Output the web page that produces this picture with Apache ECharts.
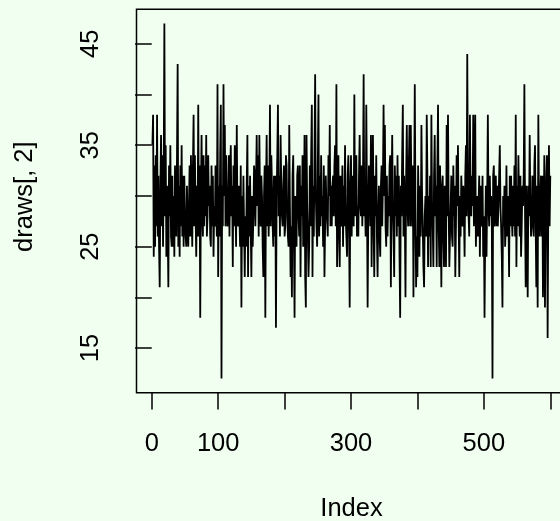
<!DOCTYPE html>
<html>
<head>
<meta charset="utf-8">
<script src="https://cdn.jsdelivr.net/npm/echarts@6/dist/echarts.min.js"></script>
<style>
  html, body { margin: 0; padding: 0; background: #F0FFF0; }
  #chart { width: 560px; height: 521px; }
</style>
</head>
<body>
<div id="chart"></div>
<script>
// Trace of the second column of the sampler output, one value per iteration
const draws2 = [
  35, 38, 24, 33, 25, 34, 27, 38, 26, 32,
  25, 21, 31, 36, 27, 34, 25, 32, 47, 28,
  35, 24, 31, 27, 21, 33, 28, 35, 26, 25,
  32, 25, 30, 24, 33, 28, 26, 34, 43, 25,
  31, 24, 33, 27, 35, 26, 32, 25, 32, 28,
  26, 25, 31, 27, 25, 29, 33, 26, 34, 29,
  25, 33, 38, 27, 34, 28, 24, 31, 26, 39,
  26, 33, 18, 30, 36, 28, 26, 34, 27, 33,
  28, 36, 26, 28, 34, 29, 31, 26, 25, 33,
  27, 32, 24, 29, 27, 33, 29, 26, 41, 22,
  31, 26, 34, 39, 12, 31, 27, 41, 30, 37,
  27, 34, 29, 27, 29, 34, 26, 32, 35, 28,
  31, 23, 33, 27, 35, 29, 25, 37, 28, 27,
  31, 28, 25, 33, 19, 30, 25, 32, 27, 22,
  28, 25, 31, 36, 22, 31, 26, 32, 27, 22,
  30, 25, 28, 33, 32, 27, 27, 36, 29, 34,
  26, 36, 30, 27, 32, 30, 25, 22, 30, 33,
  18, 31, 36, 27, 33, 26, 31, 39, 27, 34,
  31, 27, 25, 32, 26, 32, 17, 30, 34, 39,
  28, 32, 26, 36, 31, 28, 27, 31, 33, 26,
  27, 34, 33, 28, 26, 25, 37, 29, 22, 27,
  20, 32, 34, 26, 18, 30, 30, 25, 32, 33,
  28, 26, 33, 22, 31, 28, 34, 25, 28, 36,
  22, 19, 36, 29, 26, 22, 25, 33, 27, 34,
  39, 22, 31, 26, 34, 42, 30, 27, 25, 33,
  40, 26, 32, 27, 34, 28, 30, 25, 33, 22,
  27, 32, 29, 29, 26, 34, 30, 37, 27, 31,
  27, 31, 32, 28, 33, 35, 27, 41, 23, 31,
  34, 26, 23, 32, 28, 27, 33, 25, 31, 27,
  35, 28, 26, 24, 32, 34, 27, 19, 31, 34,
  26, 32, 30, 27, 40, 28, 30, 34, 26, 29,
  26, 32, 36, 29, 28, 33, 27, 31, 42, 28,
  30, 26, 39, 30, 19, 28, 33, 31, 27, 36,
  23, 31, 36, 27, 22, 32, 28, 34, 26, 22,
  28, 31, 26, 24, 31, 33, 27, 31, 39, 30,
  37, 27, 25, 32, 26, 30, 28, 33, 34, 21,
  30, 36, 29, 26, 22, 33, 28, 32, 26, 34,
  27, 32, 24, 18, 31, 28, 34, 39, 26, 32,
  28, 20, 32, 37, 29, 27, 33, 37, 27, 37,
  30, 27, 33, 20, 30, 41, 29, 21, 26, 22,
  33, 28, 24, 31, 26, 37, 30, 27, 23, 21,
  28, 30, 26, 38, 32, 23, 30, 26, 32, 23,
  38, 29, 27, 23, 32, 36, 28, 31, 23, 33,
  39, 27, 23, 33, 28, 21, 31, 32, 26, 23,
  31, 31, 23, 37, 28, 38, 29, 23, 26, 29,
  32, 26, 25, 33, 28, 31, 22, 27, 34, 29,
  35, 28, 22, 30, 26, 32, 32, 27, 31, 28,
  24, 32, 35, 28, 44, 31, 28, 26, 38, 30,
  28, 32, 29, 38, 27, 32, 38, 25, 28, 30,
  26, 29, 32, 24, 31, 27, 28, 32, 24, 28,
  18, 26, 31, 24, 30, 38, 29, 27, 32, 28,
  30, 27, 12, 32, 33, 27, 29, 32, 27, 31,
  27, 29, 32, 35, 29, 27, 24, 19, 30, 27,
  31, 25, 27, 33, 26, 30, 28, 22, 32, 27,
  32, 28, 26, 31, 27, 33, 26, 38, 23, 31,
  27, 34, 29, 26, 32, 24, 27, 31, 29, 32,
  41, 28, 21, 31, 27, 20, 31, 28, 36, 29,
  26, 27, 32, 29, 26, 33, 35, 27, 21, 31,
  19, 38, 29, 26, 30, 32, 26, 32, 20, 27,
  34, 19, 28, 32, 34, 16, 29, 35, 27, 32
];

// Axis ticks and the subset of them that carry labels
const xTicks = [0, 100, 200, 300, 400, 500, 600];
const xLabels = [0, 100, 300, 500];
const yTicks = [15, 20, 25, 30, 35, 40, 45];
const yLabels = [15, 25, 35, 45];

const xTitle = 'Index';
const yTitle = 'draws[, 2]';

// x is the 1-based iteration index
const points = draws2.map((v, i) => [i + 1, v]);
const n = draws2.length;
const yMin = Math.min(...draws2), yMax = Math.max(...draws2);
// 4% padding on both ends of each range
const xPad = 0.04 * (n - 1);
const yPad = 0.04 * (yMax - yMin);

const FONT = '"Liberation Sans", Arial, Helvetica, sans-serif';
const FS = 25.5;

const chart = echarts.init(document.getElementById('chart'), null, { renderer: 'canvas' });
chart.setOption({
  animation: false,
  backgroundColor: '#F0FFF0',
  grid: {
    left: 136.5, top: 9.3, width: 429.7, height: 383.4,
    outerBoundsMode: 'none',
    containLabel: false,
    show: true, borderColor: '#000', borderWidth: 1.5,
    backgroundColor: 'transparent'
  },
  xAxis: {
    type: 'value',
    min: 1 - xPad, max: n + xPad,
    axisLine: { show: false },
    splitLine: { show: false },
    axisTick: {
      show: true, inside: false, length: 16.7,
      customValues: xTicks,
      lineStyle: { color: '#000', width: 1.5 }
    },
    axisLabel: {
      show: true, margin: 38,
      customValues: xLabels,
      color: '#000', fontFamily: FONT, fontSize: FS
    }
  },
  yAxis: {
    type: 'value',
    min: yMin - yPad, max: yMax + yPad,
    axisLine: { show: false },
    splitLine: { show: false },
    axisTick: {
      show: true, inside: false, length: 16.7,
      customValues: yTicks,
      lineStyle: { color: '#000', width: 1.5 }
    },
    axisLabel: {
      show: true, margin: 33, rotate: 90,
      customValues: yLabels,
      color: '#000', fontFamily: FONT, fontSize: FS
    }
  },
  graphic: [
    {
      type: 'text', x: 351.5, y: 508.5,
      style: { text: xTitle, fill: '#000', font: FS + 'px ' + FONT, textAlign: 'center', textVerticalAlign: 'middle' }
    },
    {
      type: 'text', x: 25, y: 196.7, rotation: Math.PI / 2,
      style: { text: yTitle, fill: '#000', font: FS + 'px ' + FONT, textAlign: 'center', textVerticalAlign: 'middle' }
    }
  ],
  series: [{
    type: 'line',
    data: points,
    showSymbol: false,
    symbol: 'none',
    clip: true,
    lineStyle: { color: '#000', width: 1.8 }
  }]
});
</script>
</body>
</html>
